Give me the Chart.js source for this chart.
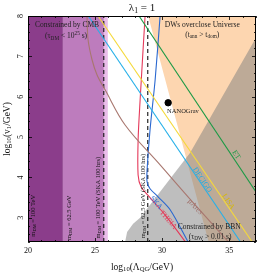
<!DOCTYPE html>
<html>
<head>
<meta charset="utf-8">
<script src="https://cdn.jsdelivr.net/npm/chart.js@4.4.0/dist/chart.umd.min.js"></script>
<style>
  html, body { margin: 0; padding: 0; background: #fff; }
</style>
</head>
<body>
<canvas id="dwChart" width="266" height="275"></canvas>
<script>
// axis ranges and ticks
const xRange = [20, 37];
const yRange = [2.4, 8];
const xTicks = [20, 25, 30, 35];
const yTicks = [3, 4, 5, 6, 7, 8];

// CMB bands (x edges) and SKA dashed lines
const cmbDarkX = [20, 22.6];
const cmbMidX = [22.6, 25.65];
const cmbLightX = [25.65, 25.95];
const skaDashX = [25.65, 28.93];

// DWs overclose Universe region
const dwX = [28.96, 37, 37, 33.47];
const dwY = [8, 8, 2.4, 2.4];

// BBN region
const bbnX = [27.24, 27.39, 27.84, 28.36, 32.09, 37.0, 37];
const bbnY = [2.4, 2.65, 2.85, 3.0, 4.61, 7.46, 2.4];

// GW detector sensitivity curves
const etX = [28.28, 37.0];
const etY = [8, 3.64];
const lisaX = [25.22, 36.72];
const lisaY = [8, 2.4];
const decigoX = [24.5, 35.85];
const decigoY = [8, 2.4];
const muAresX = [24.40, 24.48, 24.78, 25.15, 25.75, 27.24, 29.85, 32.46, 34.93];
const muAresY = [8.0, 7.41, 6.91, 6.54, 6.17, 5.30, 4.31, 3.32, 2.41];
const theiaX = [28.73, 28.36, 28.21, 28.21, 28.43, 29.10, 30.22, 31.72];
const theiaY = [8.0, 5.92, 4.93, 4.06, 3.77, 3.50, 3.07, 2.41];
const skaX = [29.85, 29.48, 29.10, 28.88, 28.88, 29.10, 29.70, 30.60, 31.94];
const skaY = [8.0, 6.42, 5.18, 4.19, 3.89, 3.72, 3.52, 3.20, 2.40];

// NANOGrav best fit
const nanoX = [30.45];
const nanoY = [5.85];

const pts = (xs, ys) => xs.map((x, i) => ({x: x, y: ys[i]}));
const band = (xs) => pts([xs[0], xs[1], xs[1], xs[0]], [yRange[0], yRange[0], yRange[1], yRange[1]]);
const vline = (x) => pts([x, x], yRange);

const region = (label, data, color, order) => ({
  label: label,
  data: data,
  showLine: true,
  fill: 'shape',
  backgroundColor: color,
  borderColor: 'rgba(0,0,0,0)',
  borderWidth: 0,
  pointRadius: 0,
  order: order
});

const curve = (label, data, color, width, dash, tension) => ({
  label: label,
  data: data,
  showLine: true,
  fill: false,
  borderColor: color,
  borderWidth: width,
  borderDash: dash || [],
  pointRadius: 0,
  tension: tension || 0,
  order: 1
});

const SERIF = '"Liberation Serif", "DejaVu Serif", serif';

// labels: text, data position, size, colour, rotation (deg), align
const annotations = [
  {t: 'Constrained by CMB', x: 22.91, y: 7.78, s: 7.5, c: '#222', r: 0},
  {t: '(τ_{DM} < 10^{25} s)', x: 22.84, y: 7.50, s: 7.5, c: '#222', r: 0},
  {t: 'DWs overclose Universe', x: 32.99, y: 7.78, s: 7.5, c: '#222', r: 0},
  {t: '(t_{ann} > t_{dom})', x: 32.99, y: 7.53, s: 7.5, c: '#222', r: 0},
  {t: 'Constrained by BBN', x: 33.51, y: 2.78, s: 7.5, c: '#222', r: 0},
  {t: '(τ_{DW} > 0.01 s)', x: 33.58, y: 2.53, s: 7.5, c: '#222', r: 0},
  {t: 'NANOGrav', x: 30.37, y: 5.65, s: 6.5, c: '#222', r: 0, a: 'left'},
  {t: 'ET', x: 35.52, y: 4.56, s: 7.5, c: '#1a9a45', r: 56},
  {t: 'DECIGO', x: 32.99, y: 3.94, s: 7.5, c: '#1fa8e0', r: 56},
  {t: 'LISA', x: 34.93, y: 3.40, s: 7.5, c: '#d8b800', r: 56},
  {t: 'μAres', x: 32.46, y: 3.27, s: 7.5, c: '#a0706a', r: 47},
  {t: 'SKA', x: 29.55, y: 3.37, s: 7.5, c: '#2a68d0', r: 50},
  {t: 'THEIA', x: 30.45, y: 2.95, s: 7.5, c: '#e33a55', r: 48},
  {t: 'm_{DM} = 100 TeV', x: 20.37, y: 3.05, s: 6.5, c: '#111', r: -90},
  {t: 'm_{DM} = 62.5 GeV', x: 23.06, y: 3.0, s: 6.5, c: '#111', r: -90},
  {t: 'm_{DM} = 100 TeV (SKA 100 hrs)', x: 25.22, y: 3.5, s: 6.5, c: '#111', r: -90},
  {t: 'm_{DM} = 62.5 GeV (SKA 100 hrs)', x: 28.58, y: 3.54, s: 6.5, c: '#111', r: -90}
];

function parseRich(s) {
  const out = [];
  const re = /([_^])\{([^}]*)\}|([^_^]+)/g;
  let m;
  while ((m = re.exec(s))) {
    if (m[1]) out.push({t: m[2], mode: m[1]});
    else out.push({t: m[3], mode: ''});
  }
  return out;
}

function drawRich(ctx, s, x, y, size, color, align, angle) {
  const parts = parseRich(s);
  let w = 0;
  parts.forEach(p => {
    p.sz = p.mode ? size * 0.7 : size;
    ctx.font = p.sz + 'px ' + SERIF;
    p.w = ctx.measureText(p.t).width;
    w += p.w;
  });
  ctx.save();
  ctx.translate(x, y);
  ctx.rotate((angle || 0) * Math.PI / 180);
  let cx = align === 'left' ? 0 : align === 'right' ? -w : -w / 2;
  ctx.fillStyle = color;
  ctx.textBaseline = 'middle';
  ctx.textAlign = 'left';
  parts.forEach(p => {
    ctx.font = p.sz + 'px ' + SERIF;
    const dy = p.mode === '_' ? size * 0.28 : p.mode === '^' ? -size * 0.3 : 0;
    ctx.fillText(p.t, cx, dy);
    cx += p.w;
  });
  ctx.restore();
}

const decorations = {
  id: 'decorations',
  afterDatasetsDraw(chart) {
    const {ctx, chartArea: a, scales: {x, y}} = chart;
    ctx.save();
    // labels inside the plot
    annotations.forEach(n => {
      drawRich(ctx, n.t, x.getPixelForValue(n.x), y.getPixelForValue(n.y), n.s, n.c, n.a || 'center', n.r);
    });
    // frame
    ctx.strokeStyle = '#000';
    ctx.lineWidth = 1;
    ctx.strokeRect(a.left + 0.5, a.top + 0.5, a.right - a.left - 1, a.bottom - a.top - 1);
    // inward ticks
    ctx.lineWidth = 0.8;
    ctx.beginPath();
    for (let v = xRange[0]; v <= xRange[1]; v++) {
      const px = Math.round(x.getPixelForValue(v)) + 0.5;
      const len = xTicks.includes(v) ? 4 : 2;
      ctx.moveTo(px, a.bottom); ctx.lineTo(px, a.bottom - len);
      ctx.moveTo(px, a.top); ctx.lineTo(px, a.top + len);
    }
    for (let k = 0; k <= 28; k++) {
      const v = yRange[0] + k * 0.2;
      const py = Math.round(y.getPixelForValue(v)) + 0.5;
      const len = Math.abs(v - Math.round(v)) < 1e-6 ? 4 : 2;
      ctx.moveTo(a.left, py); ctx.lineTo(a.left + len, py);
      ctx.moveTo(a.right, py); ctx.lineTo(a.right - len, py);
    }
    ctx.stroke();
    // tick labels
    xTicks.forEach(v => drawRich(ctx, String(v), x.getPixelForValue(v), a.bottom + 9, 8, '#111', 'center', 0));
    yTicks.forEach(v => drawRich(ctx, String(v), a.left - 7, y.getPixelForValue(v), 8, '#111', 'center', -90));
    // axis titles and chart title
    drawRich(ctx, 'log_{10}(Λ_{QG}/GeV)', (a.left + a.right) / 2, a.bottom + 25, 9.5, '#111', 'center', 0);
    drawRich(ctx, 'log_{10}(v_{1}/GeV)', 7, (a.top + a.bottom) / 2, 9.5, '#111', 'center', -90);
    drawRich(ctx, 'λ_{1} = 1', (a.left + a.right) / 2, 8, 11, '#111', 'center', 0);
    ctx.restore();
  }
};

new Chart(document.getElementById('dwChart').getContext('2d'), {
  type: 'scatter',
  data: {
    datasets: [
      {label: 'NANOGrav', data: pts(nanoX, nanoY), backgroundColor: '#000', borderColor: '#000', pointRadius: 3.2, order: 0},
      curve('ET', pts(etX, etY), '#1a9a45', 1.1),
      curve('LISA', pts(lisaX, lisaY), '#f5d93a', 1.1),
      curve('DECIGO', pts(decigoX, decigoY), '#27b0e8', 1.1),
      curve('μAres', pts(muAresX, muAresY), '#a8776f', 1.1, null, 0.35),
      curve('THEIA', pts(theiaX, theiaY), '#e5395a', 1.1, null, 0.3),
      curve('SKA', pts(skaX, skaY), '#2a68d0', 1.1, null, 0.3),
      curve('SKA 100 TeV', vline(skaDashX[0]), '#111', 1.1, [4, 3]),
      curve('SKA 62.5 GeV', vline(skaDashX[1]), '#111', 1.1, [4, 3]),
      region('BBN', pts(bbnX, bbnY), 'rgba(125,125,125,0.5)', 3),
      region('DW overclose', pts(dwX, dwY), '#fdd6b0', 4),
      region('CMB dark', band(cmbDarkX), '#8b3d8b', 5),
      region('CMB mid', band(cmbMidX), '#bd7cbd', 5),
      region('CMB light', band(cmbLightX), '#e9bde9', 5)
    ]
  },
  options: {
    responsive: false,
    animation: false,
    layout: {padding: {left: 0, right: 10, top: 16, bottom: 0}},
    plugins: {legend: {display: false}, tooltip: {enabled: false}},
    scales: {
      x: {
        type: 'linear', min: xRange[0], max: xRange[1],
        grid: {display: false}, border: {display: false},
        ticks: {display: false},
        afterFit: s => { s.height = 33; }
      },
      y: {
        type: 'linear', min: yRange[0], max: yRange[1],
        grid: {display: false}, border: {display: false},
        ticks: {display: false},
        afterFit: s => { s.width = 28; }
      }
    }
  },
  plugins: [decorations]
});
</script>
</body>
</html>
